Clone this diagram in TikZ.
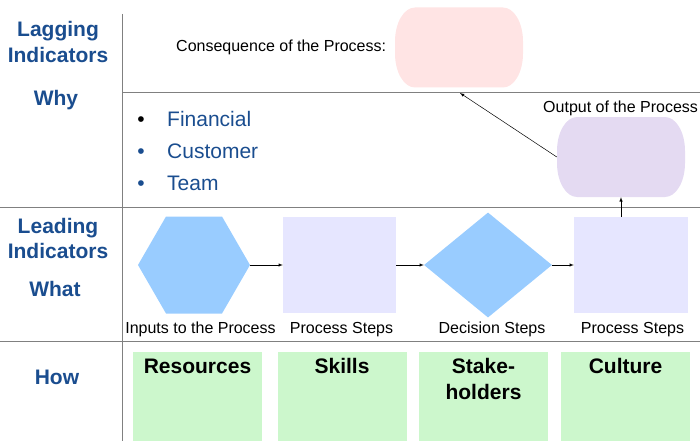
\documentclass[tikz,border=0pt]{standalone}
\usepackage{fontspec}
\setmainfont{Liberation Sans}
\usetikzlibrary{shapes.geometric,calc}

\definecolor{leadblue}{RGB}{26,77,143}
\definecolor{rulegrey}{RGB}{128,128,128}
\definecolor{conpink}{RGB}{255,228,228}
\definecolor{outlilac}{RGB}{228,218,242}
\definecolor{inblue}{RGB}{153,204,255}
\definecolor{steplav}{RGB}{230,230,255}
\definecolor{cardgreen}{RGB}{204,247,204}

\tikzset{
  rule/.style={draw=rulegrey, line width=1pt},
  rowhead/.style={font=\fontsize{21}{25}\selectfont\bfseries, text=leadblue, inner sep=0pt},
  bullettext/.style={font=\fontsize{21}{25}\selectfont, text=leadblue, inner sep=0pt},
  caption/.style={font=\fontsize{16}{19}\selectfont, inner sep=0pt},
  stepbox/.style={fill=steplav, inner sep=0pt},
  cardbox/.style={fill=cardgreen, anchor=north, minimum width=129pt, text width=129pt,
    align=center, inner sep=0pt, text height=21pt, text depth=68pt,
    font=\fontsize{21}{26}\selectfont\bfseries},
  terminal/.style={minimum width=128pt, minimum height=80pt, inner sep=0pt,
    path picture={
      \fill[#1] ($(path picture bounding box.north west)+(20,0)$)
        -- ($(path picture bounding box.north east)+(-20,0)$)
        .. controls ($(path picture bounding box.north east)+(-9,0)$) and ($(path picture bounding box.north east)+(0,15)$) .. ($(path picture bounding box.north east)+(0,34)$)
        -- ($(path picture bounding box.south east)+(0,-34)$)
        .. controls ($(path picture bounding box.south east)+(0,-15)$) and ($(path picture bounding box.south east)+(-9,0)$) .. ($(path picture bounding box.south east)+(-20,0)$)
        -- ($(path picture bounding box.south west)+(20,0)$)
        .. controls ($(path picture bounding box.south west)+(9,0)$) and ($(path picture bounding box.south west)+(0,-15)$) .. ($(path picture bounding box.south west)+(0,-34)$)
        -- ($(path picture bounding box.north west)+(0,34)$)
        .. controls ($(path picture bounding box.north west)+(0,15)$) and ($(path picture bounding box.north west)+(9,0)$) .. cycle;}},
  flow/.style={->, >=latex, line width=0.5pt}
}

\begin{document}
\begin{tikzpicture}[x=1pt,y=-1pt]
  \useasboundingbox (0,0) rectangle (700,441);

  % grid of the table
  \draw[rule] (122,14) -- (122,441);
  \draw[rule] (122,93) -- (700,93);
  \draw[rule] (0,207) -- (700,207);
  \draw[rule] (0,341) -- (700,341);

  % row heads
  \node[rowhead, anchor=base] (lag) at (58,37) {Lagging};
  \node[rowhead, anchor=base] (lagind) at (58,63) {Indicators};
  \node[rowhead, anchor=base] (why) at (56,106) {Why};
  \node[rowhead, anchor=base] (lead) at (58,233) {Leading};
  \node[rowhead, anchor=base] (leadind) at (58,258) {Indicators};
  \node[rowhead, anchor=base] (what) at (55,296) {What};
  \node[rowhead, anchor=base] (how) at (57,384) {How};

  % lagging results
  \node[caption, anchor=base west] (context) at (176,52) {Consequence of the Process:};
  \node[terminal=conpink] (conseq) at (459,47.5) {};
  \node[caption, anchor=base west] (outtext) at (543,112) {Output of the Process};
  \node[terminal=outlilac] (output) at (621,157) {};
  \coordinate (lagtip) at (460,93);

  \node[bullettext, text=black, anchor=base] (dot1) at (141,126) {•};
  \node[bullettext, anchor=base west] (fin) at (167,126) {Financial};
  \node[bullettext, anchor=base] (dot2) at (141,158) {•};
  \node[bullettext, anchor=base west] (cust) at (167,158) {Customer};
  \node[bullettext, anchor=base] (dot3) at (141,190) {•};
  \node[bullettext, anchor=base west] (team) at (167,190) {Team};

  % process flow
  \node[regular polygon, regular polygon sides=6, minimum size=112pt, inner sep=0pt, fill=inblue] (inputs) at (194,265) {};
  \node[stepbox, minimum width=113pt, minimum height=96pt] (proc1) at (339.5,265) {};
  \node[diamond, minimum width=128pt, minimum height=105pt, inner sep=0pt, fill=inblue] (decide) at (488,265) {};
  \node[stepbox, minimum width=114pt, minimum height=96pt] (proc2) at (631,265) {};

  \node[caption, anchor=base] (capin) at (200.5,333) {Inputs to the Process};
  \node[caption, anchor=base] (capp1) at (341.5,333) {Process Steps};
  \node[caption, anchor=base] (capdec) at (492,333) {Decision Steps};
  \node[caption, anchor=base] (capp2) at (632.5,333) {Process Steps};

  \draw[flow] (inputs.east) -- (proc1.west);
  \draw[flow] (proc1.east) -- (decide.west);
  \draw[flow] (decide.east) -- (proc2.west);
  \draw[flow] (proc2.north -| output.south) -- (output.south);
  \draw[flow] (output.west) -- (lagtip);

  % enablers
  \node[cardbox] (res) at (197.5,352) {Resources};
  \node[cardbox] (skill) at (342,352) {Skills};
  \node[cardbox] (stake) at (483.5,352) {Stake-\\holders};
  \node[cardbox] (cult) at (625.5,352) {Culture};
\end{tikzpicture}
\end{document}
